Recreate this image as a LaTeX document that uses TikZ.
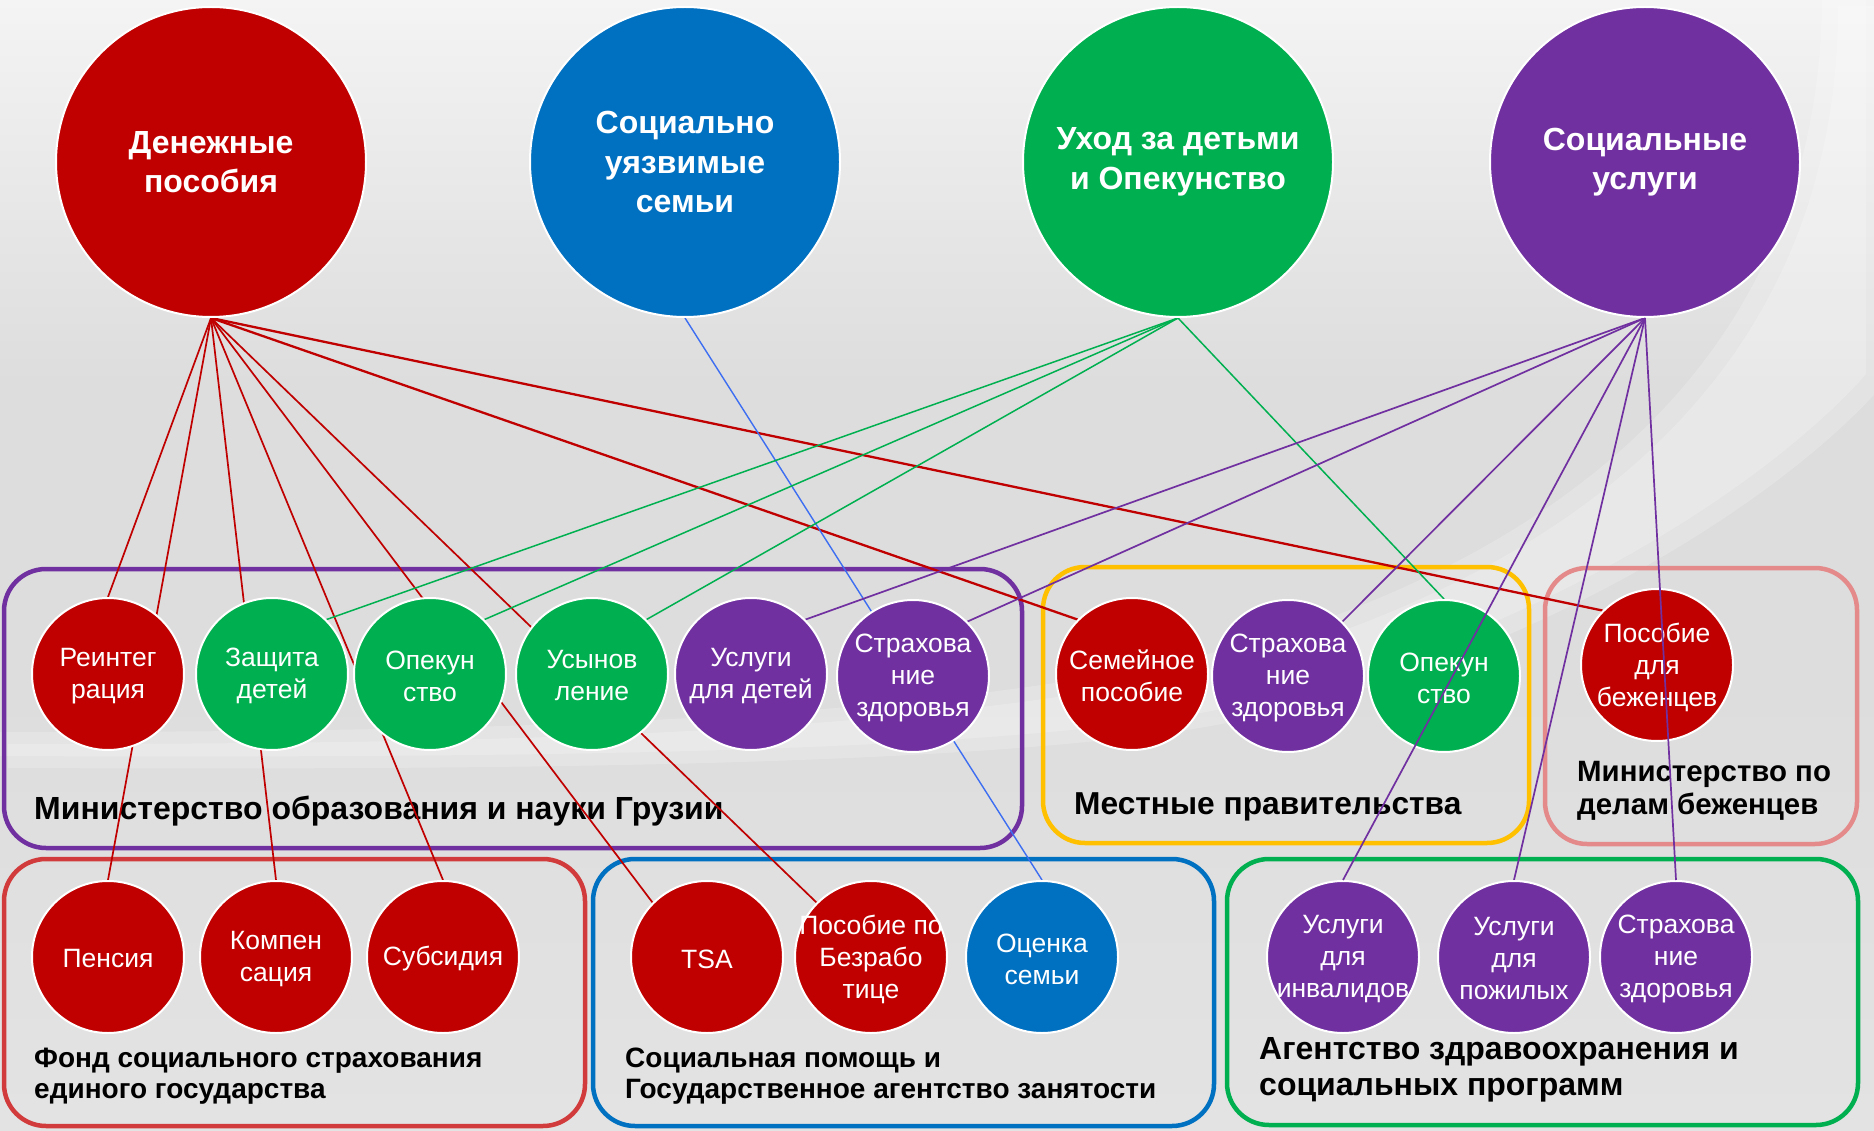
\documentclass[tikz,border=0pt]{standalone}
\usepackage{fontspec}
\setmainfont{Liberation Sans}
\usetikzlibrary{calc}
\definecolor{cRed}{HTML}{C00000}
\definecolor{cBlue}{HTML}{0070C0}
\definecolor{cGreen}{HTML}{00B050}
\definecolor{cPurple}{HTML}{7030A0}
\definecolor{cGold}{HTML}{FFC000}
\definecolor{cPink}{HTML}{E48A8A}
\definecolor{cBoxRed}{HTML}{D23B3B}
\definecolor{cLineBlue}{HTML}{3D6EF2}
\definecolor{bgA}{HTML}{F4F4F4}
\definecolor{bgB}{HTML}{EAEAEA}
\definecolor{bgC}{HTML}{DDDDDD}
\definecolor{bgD}{HTML}{E3E3E3}
\pgfdeclareverticalshading{bgshade}{100bp}{color(0bp)=(bgD); color(25bp)=(bgD); color(45bp)=(bgC); color(58bp)=(bgC); color(68bp)=(bgB); color(75bp)=(bgA); color(100bp)=(bgA)}
\pgfdeclarelayer{bg}
\pgfdeclarelayer{lines}
\pgfdeclarelayer{top}
\pgfsetlayers{bg,lines,main,top}
\begin{document}
\begin{tikzpicture}[x=1pt,y=-1pt,
  big/.style={circle, minimum size=310pt, inner sep=0pt, draw=white, line width=2pt},
  bigtxt/.style={text=white, font=\fontsize{32}{39.5}\selectfont\bfseries, align=center, inner sep=0pt},
  small/.style={circle, minimum size=152pt, inner sep=0pt, draw=white, line width=2pt},
  smtxt/.style={text=white, font=\fontsize{26.5}{32}\selectfont, align=center, inner sep=0pt, yshift=-2pt},
  grp/.style={draw, rectangle, rounded corners=42pt, line width=4.5pt, inner sep=0pt},
  lbl/.style={anchor=base west, inner sep=0pt, align=left, text=black},
  conn/.style={line width=1.7pt},
  swoosh/.style={white, opacity=0.2}]
\useasboundingbox (0,0) rectangle (1874,1131);
\begin{pgfonlayer}{bg}
\shade[shading=bgshade] (0,0) rectangle (1874,1131);
% light swoosh (soft, two offset layers)
\foreach \dy/\dx in {-6/-8, 6/8}{
\fill[swoosh, shift={(\dx,\dy)}]
  (1830,0) .. controls (1830,300) and (1650,520) .. (1297,638)
  .. controls (1000,730) and (500,738) .. (0,738)
  -- (0,762) .. controls (500,764) and (900,760) .. (1150,728)
  .. controls (1450,690) and (1750,520) .. (1874,380) -- (1874,0) -- cycle;
}
% group boxes
\node[grp, draw=cPurple, minimum width=1018pt, minimum height=279pt] (bxEdu) at (513,708.5) {};
\node[grp, draw=cGold, minimum width=486pt, minimum height=276pt] (bxLoc) at (1286,705) {};
\node[grp, draw=cPink, minimum width=312pt, minimum height=276pt] (bxRef) at (1701,706) {};
\node[grp, draw=cBoxRed, minimum width=581pt, minimum height=267pt] (bxFund) at (294.5,992.5) {};
\node[grp, draw=cBlue, minimum width=621pt, minimum height=267pt] (bxSoc) at (903.5,992.5) {};
\node[grp, draw=cGreen, minimum width=631pt, minimum height=266pt] (bxHealth) at (1542.5,992) {};
% labels
\node[lbl, font=\fontsize{32}{38}\selectfont\bfseries] (lEdu) at (34,819) {Министерство образования и науки Грузии};
\node[lbl, font=\fontsize{31.7}{38}\selectfont\bfseries] (lLoc) at (1074,814) {Местные правительства};
\node[lbl, font=\fontsize{29.4}{33}\selectfont\bfseries] (lRef) at (1577,814) {Министерство по\\делам беженцев};
\node[lbl, font=\fontsize{28}{31}\selectfont\bfseries] (lFund) at (34,1098) {Фонд социального страхования\\единого государства};
\node[lbl, font=\fontsize{28}{31}\selectfont\bfseries] (lSoc) at (625,1098) {Социальная помощь и\\Государственное агентство занятости};
\node[lbl, font=\fontsize{32}{36}\selectfont\bfseries] (lHealth) at (1259,1095) {Агентство здравоохранения и\\социальных программ};
\end{pgfonlayer}
% top circles
\node[big, fill=cRed, label={[bigtxt]center:{Денежные\\пособия}}] (den) at (211,162) {};
\node[big, fill=cBlue, label={[bigtxt]center:{Социально\\уязвимые\\семьи}}] (vul) at (685,162) {};
\node[big, fill=cGreen, label={[bigtxt]center:{Уход за детьми\\и Опекунство}}] (care) at (1178,162) {};
\node[big, fill=cPurple, label={[bigtxt]center:{Социальные\\услуги}}] (serv) at (1645,162) {};
% row 1
\node[small, fill=cRed, label={[smtxt]center:{Реинтег\\рация}}] (reint) at (108,674) {};
\node[small, fill=cGreen, label={[smtxt]center:{Защита\\детей}}] (prot) at (272,674) {};
\node[small, fill=cGreen, label={[smtxt]center:{Опекун\\ство}}] (guardA) at (430,674) {};
\node[small, fill=cGreen, label={[smtxt]center:{Усынов\\ление}}] (adopt) at (592,674) {};
\node[small, fill=cPurple, label={[smtxt]center:{Услуги\\для детей}}] (child) at (751,674) {};
\node[small, fill=cPurple, label={[smtxt]center:{Страхова\\ние\\здоровья}}] (insA) at (913,676) {};
\node[small, fill=cRed, label={[smtxt]center:{Семейное\\пособие}}] (fam) at (1132,674) {};
\node[small, fill=cPurple, label={[smtxt]center:{Страхова\\ние\\здоровья}}] (insB) at (1288,676) {};
\node[small, fill=cGreen, label={[smtxt]center:{Опекун\\ство}}] (guardB) at (1444,676) {};
\node[small, fill=cRed, label={[smtxt]center:{Пособие\\для\\беженцев}}] (refb) at (1657,665) {};
% row 2
\node[small, fill=cRed, label={[smtxt]center:{Пенсия}}] (pens) at (108,957) {};
\node[small, fill=cRed, label={[smtxt]center:{Компен\\сация}}] (comp) at (276,957) {};
\node[small, fill=cRed, label={[smtxt]center:{Субсидия}}] (subs) at (443,957) {};
\node[small, fill=cRed, label={[smtxt]center:{TSA}}] (tsa) at (707,957) {};
\node[small, fill=cRed, label={[smtxt]center:{Пособие по\\Безрабо\\тице}}] (unemp) at (871,957) {};
\node[small, fill=cBlue, label={[smtxt]center:{Оценка\\семьи}}] (asses) at (1042,957) {};
\node[small, fill=cPurple, label={[smtxt]center:{Услуги\\для\\инвалидов}}] (disab) at (1343,957) {};
\node[small, fill=cPurple, label={[smtxt]center:{Услуги\\для\\пожилых}}] (elder) at (1514,957) {};
\node[small, fill=cPurple, label={[smtxt]center:{Страхова\\ние\\здоровья}}] (insC) at (1676,957) {};
% connectors
\begin{pgfonlayer}{lines}
\draw[conn, cRed] (den.south) -- (reint.north);
\draw[conn, cRed] (den.south) -- (pens.north);
\draw[conn, cRed] (den.south) -- (comp.north);
\draw[conn, cRed] (den.south) -- (subs.north);
\draw[conn, cRed] (den.south) -- (tsa.north west);
\draw[conn, cRed] (den.south) -- (unemp.north west);
\draw[conn, cRed, line width=2.3pt] (den.south) -- (fam.north west);
\draw[conn, cRed, line width=2.3pt] (den.south) -- (refb.north west);
\draw[conn, cLineBlue, line width=1.4pt] (vul.south) -- (asses.north);
\draw[conn, cGreen, line width=1.5pt] (care.south) -- (prot.north east);
\draw[conn, cGreen, line width=1.5pt] (care.south) -- (guardA.north east);
\draw[conn, cGreen, line width=1.5pt] (care.south) -- (adopt.north east);
\draw[conn, cGreen, line width=1.5pt] (care.south) -- (guardB.north);
\draw[conn, cPurple] (serv.south) -- (child.north east);
\draw[conn, cPurple] (serv.south) -- (insA.north east);
\draw[conn, cPurple] (serv.south) -- (insB.north east);
\draw[conn, cPurple] (serv.south) -- (elder.north);
\end{pgfonlayer}
\begin{pgfonlayer}{top}
\draw[conn, cPurple] (serv.south) -- (disab.north);
\draw[conn, cPurple] (serv.south) -- (insC.north);
\end{pgfonlayer}
\end{tikzpicture}
\end{document}
